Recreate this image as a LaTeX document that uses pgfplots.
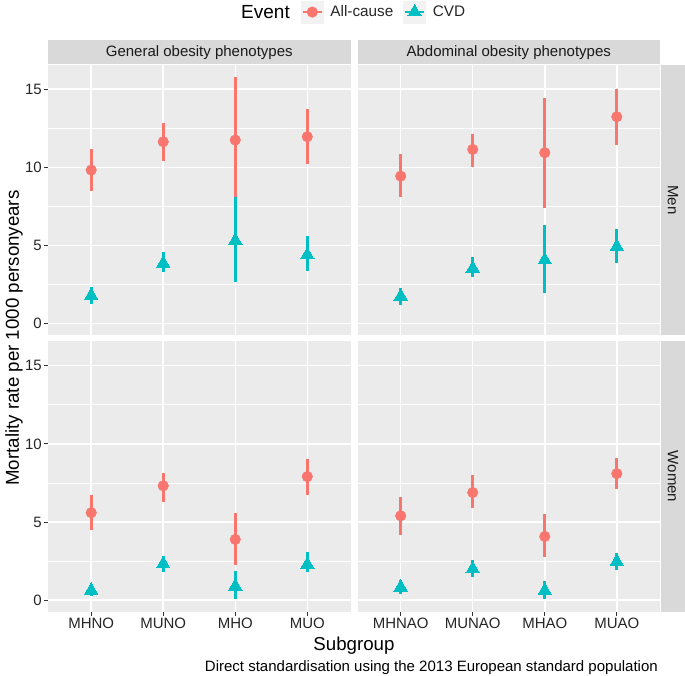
\documentclass[border=0pt]{standalone}
\usepackage{pgfplots}
\pgfplotsset{compat=1.18}
\usepackage{pgfplotstable}
\usepackage{fontspec}
\setmainfont{Liberation Sans}
\definecolor{allc}{HTML}{F8766D}
\definecolor{cvd}{HTML}{00BFC4}
\definecolor{panelbg}{HTML}{EBEBEB}
\definecolor{stripbg}{HTML}{D9D9D9}
\definecolor{keybg}{HTML}{F2F2F2}
\definecolor{labcol}{HTML}{262626}
\definecolor{tickcol}{HTML}{333333}
\definecolor{striptext}{HTML}{1A1A1A}

% x  y  lo  hi
\pgfplotstableread{
x y lo hi
1 9.83 8.50 11.15
2 11.64 10.42 12.86
3 11.75 8.12 15.77
4 11.96 10.21 13.74
}\MGa
\pgfplotstableread{
x y lo hi
1 1.80 1.28 2.35
2 3.86 3.29 4.59
3 5.32 2.67 8.12
4 4.40 3.37 5.60
}\MGc
\pgfplotstableread{
x y lo hi
1 9.44 8.12 10.83
2 11.15 10.02 12.13
3 10.94 7.41 14.46
4 13.24 11.43 15.04
}\MAa
\pgfplotstableread{
x y lo hi
1 1.75 1.17 2.30
2 3.54 2.99 4.27
3 4.08 1.96 6.30
4 4.93 3.88 6.09
}\MAc
\pgfplotstableread{
x y lo hi
1 5.60 4.47 6.70
2 7.32 6.30 8.17
3 3.89 2.28 5.60
4 7.91 6.72 9.02
}\WGa
\pgfplotstableread{
x y lo hi
1 0.63 0.28 1.00
2 2.32 1.79 2.80
3 0.89 0.08 1.87
4 2.28 1.79 3.09
}\WGc
\pgfplotstableread{
x y lo hi
1 5.40 4.19 6.59
2 6.89 5.89 8.00
3 4.08 2.79 5.51
4 8.10 7.10 9.10
}\WAa
\pgfplotstableread{
x y lo hi
1 0.83 0.38 1.30
2 2.00 1.49 2.60
3 0.62 0.08 1.24
4 2.47 1.91 3.00
}\WAc

\pgfplotsset{
  panel/.style={
    scale only axis, width=302.5pt, height=270pt,
    xmin=0.4, xmax=4.6, ymin=-0.72, ymax=16.55,
    axis background/.style={fill=panelbg},
    axis line style={draw=none},
    xtick={1,2,3,4}, ytick={0,5,10,15}, minor ytick={2.5,7.5,12.5},
    xmajorgrids=true, ymajorgrids=true, yminorgrids=true,
    major grid style={white, line width=1.5pt},
    minor grid style={white, line width=0.75pt},
    tick align=outside, major tick length=4pt, minor tick length=0pt,
    xtick pos=bottom, ytick pos=left,
    tick style={tickcol, line width=1pt},
    ticklabel style={font=\fontsize{15}{18}\selectfont, text=labcol},
    xticklabel style={inner sep=2pt},
    yticklabel style={inner sep=2pt},
    /pgf/number format/assume math mode=true,
    anchor=south west,
  },
  notopx/.style={xticklabels={}, xtick style={draw=none}},
  norighty/.style={yticklabels={}, ytick style={draw=none}},
  sera/.style={only marks, mark=*, color=allc, mark size=5.3pt,
    mark options={fill=allc, draw=allc},
    error bars/y dir=both, error bars/y explicit,
    error bars/error bar style={line width=2.6pt, allc}, error bars/error mark=none},
  serc/.style={only marks, mark=triangle*, color=cvd, mark size=7.8pt,
    mark options={fill=cvd, draw=cvd, line width=0pt},
    error bars/y dir=both, error bars/y explicit,
    error bars/error bar style={line width=2.6pt, cvd}, error bars/error mark=none},
  /pgfplots/table/errt/.style={x=x, y=y,
    y error plus expr=\thisrow{hi}-\thisrow{y},
    y error minus expr=\thisrow{y}-\thisrow{lo}},
}

\begin{document}
\begin{tikzpicture}
\path[use as bounding box] (0,0) rectangle (685pt,675pt);

% strips
\fill[stripbg] (48pt,610.5pt) rectangle (350.5pt,635pt);
\fill[stripbg] (357.5pt,610.5pt) rectangle (660pt,635pt);
\fill[stripbg] (661pt,340pt) rectangle (685pt,610pt);
\fill[stripbg] (661pt,63.5pt) rectangle (685pt,333.5pt);
\node[font=\fontsize{15}{18}\selectfont, text=striptext] at (199.25pt,622.75pt) {General obesity phenotypes};
\node[font=\fontsize{15}{18}\selectfont, text=striptext] at (508.75pt,622.75pt) {Abdominal obesity phenotypes};
\node[font=\fontsize{15}{18}\selectfont, text=striptext, rotate=-90] at (673pt,475pt) {Men};
\node[font=\fontsize{15}{18}\selectfont, text=striptext, rotate=-90] at (673pt,198.5pt) {Women};

% top-left
\begin{axis}[panel, notopx, at={(48pt,340pt)},
  legend style={at={(0.836,1.196)}, anchor=west, draw=none, fill=none,
    inner sep=0pt, legend columns=2,
    font=\fontsize{15.3}{18}\selectfont, text=labcol,
    nodes={inner sep=3pt},
    /tikz/every odd column/.append style={column sep=4pt},
    /tikz/every even column/.append style={column sep=7pt}},
  legend cell align=left]
\addplot[sera, legend image code/.code={
    \fill[keybg] (0pt,-11pt) rectangle (22pt,11pt);
    \draw[allc, line width=2.6pt] (1.5pt,0pt) -- (20.5pt,0pt);
    \draw[allc, only marks, mark=*, mark size=5.3pt] plot coordinates {(11pt,0pt)};
  }] table[errt] {\MGa};
\addlegendentry{All-cause}
\addplot[serc, legend image code/.code={
    \fill[keybg] (0pt,-11pt) rectangle (22pt,11pt);
    \draw[cvd, line width=2.6pt] (1.5pt,0pt) -- (20.5pt,0pt);
    \draw[cvd, only marks, mark=triangle*, mark size=7.8pt] plot coordinates {(11pt,0pt)};
  }] table[errt] {\MGc};
\addlegendentry{CVD}
\end{axis}

% top-right
\begin{axis}[panel, notopx, norighty, at={(357.5pt,340pt)}]
\addplot[sera] table[errt] {\MAa};
\addplot[serc] table[errt] {\MAc};
\end{axis}

% bottom-left
\begin{axis}[panel, at={(48pt,63.5pt)}, xticklabels={MHNO,MUNO,MHO,MUO}]
\addplot[sera] table[errt] {\WGa};
\addplot[serc] table[errt] {\WGc};
\end{axis}

% bottom-right
\begin{axis}[panel, norighty, at={(357.5pt,63.5pt)}, xticklabels={MHNAO,MUNAO,MHAO,MUAO}]
\addplot[sera] table[errt] {\WAa};
\addplot[serc] table[errt] {\WAc};
\end{axis}

% texts
\node[font=\fontsize{19}{22}\selectfont, text=black, anchor=west, inner sep=0pt] at (241pt,663pt) {Event};
\node[font=\fontsize{18.7}{22}\selectfont, text=black, rotate=90] at (14pt,337pt) {Mortality rate per 1000 personyears};
\node[font=\fontsize{18.7}{22}\selectfont, text=black, anchor=base, inner sep=0pt] at (354pt,24.5pt) {Subgroup};
\node[font=\fontsize{15}{18}\selectfont, text=black, anchor=base east, inner sep=0pt] at (658pt,3.5pt) {Direct standardisation using the 2013 European standard population};
\end{tikzpicture}
\end{document}
